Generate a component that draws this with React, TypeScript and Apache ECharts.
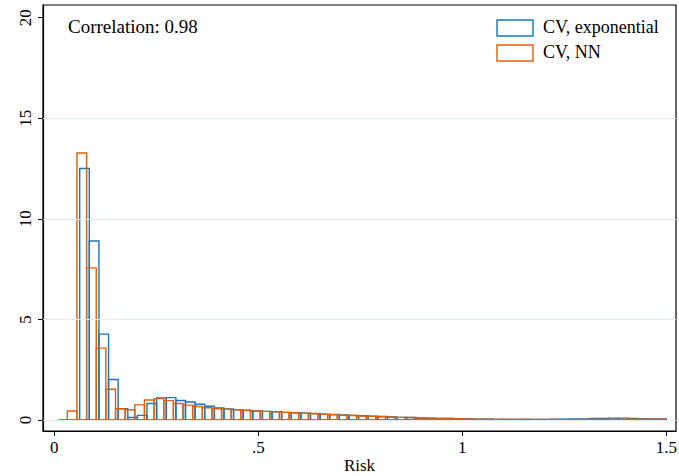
import React, { useEffect, useRef } from "react";
import * as echarts from "echarts";

// Histogram bin definitions (Risk units)
const expBinStart = 0.0151;
const expBinWidth = 0.02357;
const nnBinStart = 0.0083;
const nnBinWidth = 0.02363;

// Density heights per bin
const expHeights = [
  0, 0, 12.5, 8.9, 4.27, 2.01, 0.56, 0.12, 0.23, 0.82, 1.1, 1.11,
  0.97, 0.89, 0.78, 0.68, 0.6, 0.55, 0.5, 0.47, 0.45, 0.43, 0.41, 0.38,
  0.36, 0.34, 0.32, 0.29, 0.27, 0.25, 0.23, 0.21, 0.19, 0.17, 0.15, 0.13,
  0.12, 0.1, 0.09, 0.08, 0.07, 0.06, 0.05, 0.04, 0.04, 0.03, 0.03, 0.03,
  0.03, 0.03, 0.03, 0.04, 0.04, 0.05, 0.05, 0.07, 0.08, 0.09, 0.09, 0.08,
  0.06, 0.05, 0.05,
];
const nnHeights = [
  0, 0.45, 13.27, 7.56, 3.57, 1.53, 0.56, 0.51, 0.75, 0.99, 1.06, 0.96,
  0.82, 0.74, 0.67, 0.61, 0.56, 0.53, 0.5, 0.48, 0.45, 0.43, 0.41, 0.38,
  0.36, 0.34, 0.31, 0.28, 0.26, 0.24, 0.22, 0.2, 0.18, 0.16, 0.15, 0.13,
  0.12, 0.1, 0.09, 0.08, 0.07, 0.06, 0.05, 0.04, 0.04, 0.03, 0.03, 0.03,
  0.03, 0.02, 0.02, 0.02, 0.02, 0.02, 0.02, 0.03, 0.03, 0.03, 0.03, 0.04,
  0.04, 0.04, 0.04,
];

const xTicks = [0, 0.5, 1, 1.5];
const xTickLabels = ["0", ".5", "1", "1.5"];
const yTicks = [0, 5, 10, 15, 20];
const yGrid = [0, 5, 10, 15];

const seriesNames = ["CV, exponential", "CV, NN"];
const colors = ["#1a76b6", "#d8620f"];
const correlationText = "Correlation: 0.98";

function toBins(start: number, width: number, heights: number[]) {
  return heights.map((h, i) => [start + i * width, start + (i + 1) * width, h]);
}

const FONT = "'Liberation Serif', 'Times New Roman', serif";

export default function App() {
  const ref = useRef<HTMLDivElement>(null);
  useEffect(() => {
    document.body.style.margin = "0";
    if (!ref.current) return;
    const chart = echarts.init(ref.current, null, { renderer: "svg" });
    const renderItem = (color: string) => (params: any, api: any) => {
      const x0 = api.value(0);
      const x1 = api.value(1);
      const h = api.value(2);
      const a = api.coord([x0, 0]);
      const b = api.coord([x0, h]);
      const c = api.coord([x1, h]);
      const d = api.coord([x1, 0]);
      return {
        type: "polygon",
        shape: { points: [a, b, c, d] },
        style: { fill: "none", stroke: color, lineWidth: 1.4 },
      };
    };
    const option: any = {
      animation: false,
      backgroundColor: "#ffffff",
      textStyle: { fontFamily: FONT },
      grid: {
        left: 43,
        right: 3,
        top: 5,
        bottom: 45,
        containLabel: false,
        outerBoundsMode: "none",
        show: true,
        borderColor: "#000",
        borderWidth: 1.2,
        backgroundColor: "transparent",
      },
      xAxis: {
        type: "value",
        min: -0.0277,
        max: 1.5238,
        name: "Risk",
        nameLocation: "middle",
        nameGap: 26,
        nameMoveOverlap: false,
        nameTextStyle: { fontFamily: FONT, fontSize: 17, color: "#000", lineHeight: 17 },
        axisLine: { onZero: false, lineStyle: { color: "#000", width: 1.2 } },
        axisTick: { show: true, length: 5, customValues: xTicks, lineStyle: { color: "#000" } },
        axisLabel: {
          customValues: xTicks,
          fontFamily: FONT,
          fontSize: 17,
          color: "#000",
          margin: 8,
          formatter: (v: number) => {
            const i = xTicks.findIndex((t) => Math.abs(t - v) < 1e-9);
            return i >= 0 ? xTickLabels[i] : "";
          },
        },
        splitLine: { show: false },
      },
      yAxis: {
        type: "value",
        min: -0.548,
        max: 20.63,
        axisLine: { onZero: false, lineStyle: { color: "#000", width: 1.2 } },
        axisTick: { show: true, length: 5, customValues: yTicks, lineStyle: { color: "#000" } },
        axisLabel: {
          customValues: yTicks,
          rotate: 90,
          fontFamily: FONT,
          fontSize: 17,
          color: "#000",
          margin: 9,
          formatter: (v: number) => String(Math.round(v)),
        },
        splitLine: { show: false },
      },
      series: [
        {
          type: "line",
          data: [],
          silent: true,
          markLine: {
            silent: true,
            symbol: "none",
            label: { show: false },
            lineStyle: { color: "#e4ecef", width: 1, type: "solid" },
            data: yGrid.map((y) => ({ yAxis: y })),
          },
        },
        {
          name: seriesNames[0],
          type: "custom",
          renderItem: renderItem(colors[0]),
          data: toBins(expBinStart, expBinWidth, expHeights),
          clip: true,
        },
        {
          name: seriesNames[1],
          type: "custom",
          renderItem: renderItem(colors[1]),
          data: toBins(nnBinStart, nnBinWidth, nnHeights),
          clip: true,
        },
      ],
      graphic: [
        {
          type: "text",
          left: 68,
          top: 17,
          style: { text: correlationText, font: `19px ${FONT}`, fill: "#000" },
        },
        {
          type: "rect",
          shape: { x: 497, y: 20, width: 36, height: 16 },
          style: { fill: "none", stroke: colors[0], lineWidth: 1.4 },
        },
        {
          type: "text",
          left: 543,
          top: 18,
          style: { text: seriesNames[0], font: `18px ${FONT}`, fill: "#000" },
        },
        {
          type: "rect",
          shape: { x: 497, y: 45, width: 36, height: 16 },
          style: { fill: "none", stroke: colors[1], lineWidth: 1.4 },
        },
        {
          type: "text",
          left: 543,
          top: 43,
          style: { text: seriesNames[1], font: `18px ${FONT}`, fill: "#000" },
        },
      ],
    };
    chart.setOption(option);
    return () => chart.dispose();
  }, []);
  return <div ref={ref} style={{ width: 679, height: 476 }} />;
}
